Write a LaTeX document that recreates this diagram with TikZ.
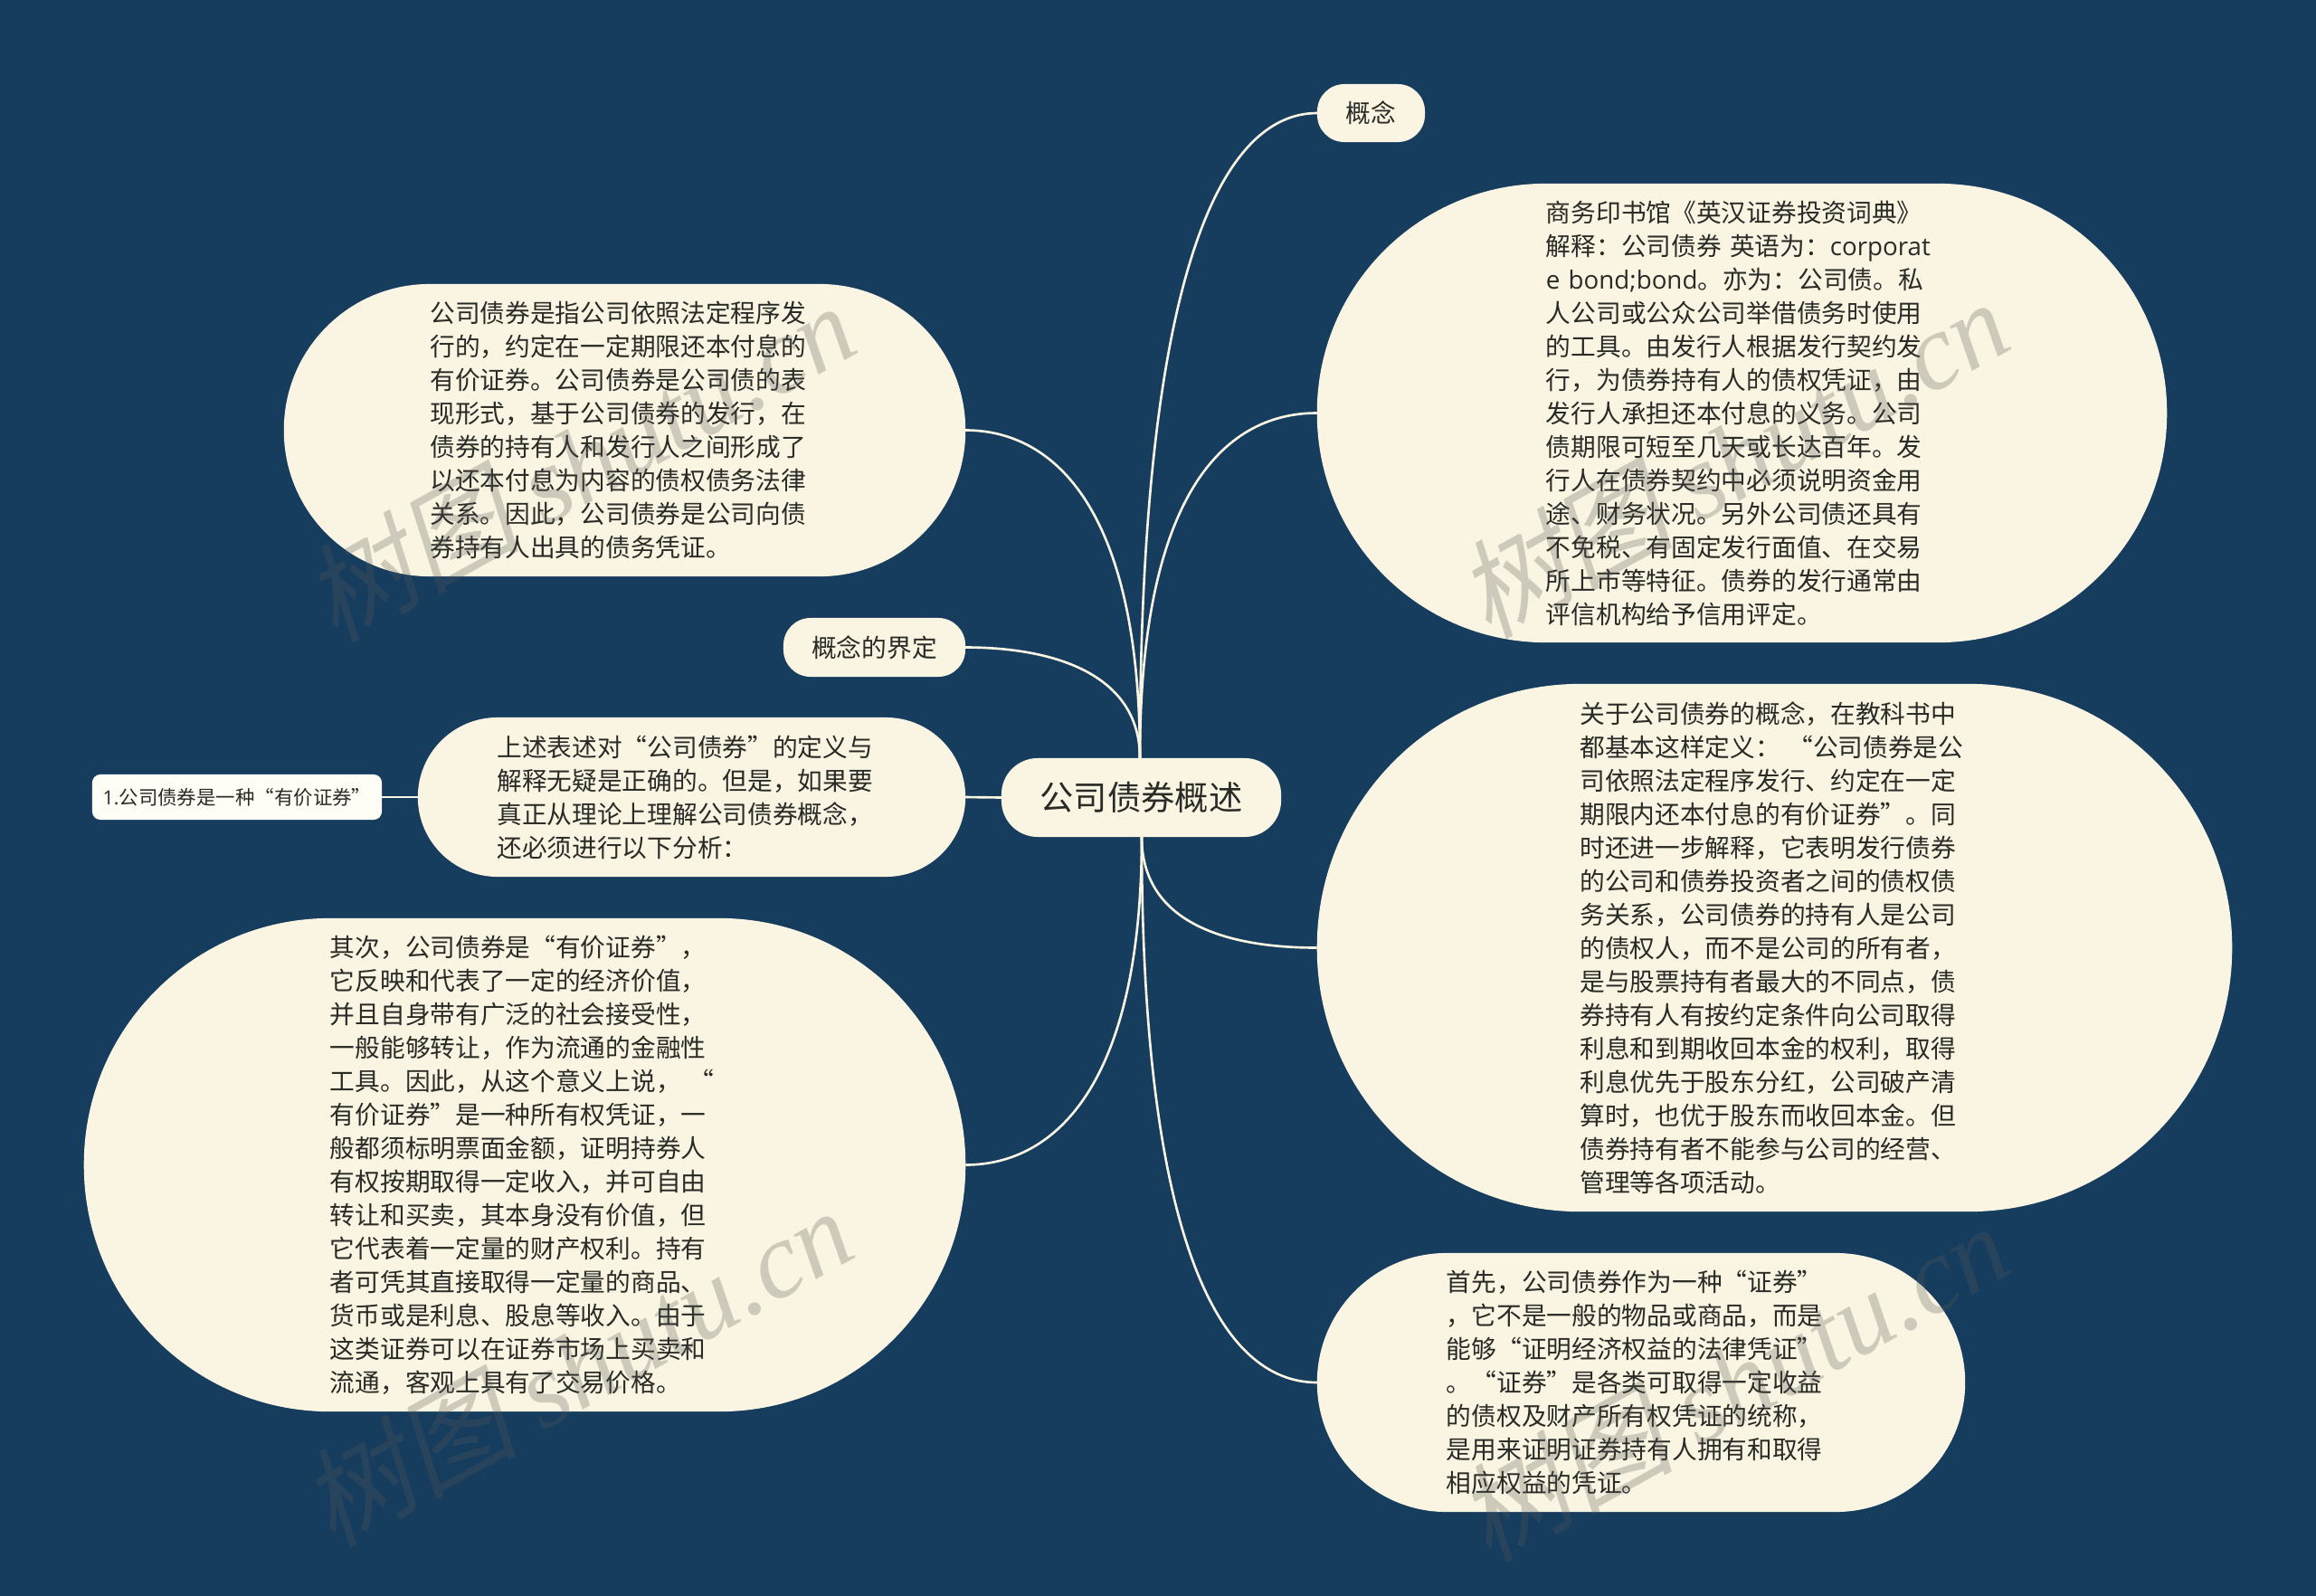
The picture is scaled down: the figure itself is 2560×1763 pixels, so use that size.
\documentclass[tikz,border=0pt]{standalone}
\usepackage{fontspec}
\setmainfont{Noto Sans CJK SC}
\newfontfamily\latinpart{Open Sans}
\newfontfamily\markcjk[FakeSlant=0.2]{Noto Sans CJK SC}
\newfontfamily\marklatin{Liberation Serif}
% full width comma and colon
\newcommand{\dou}{\symbol{"FF0C}}
\newcommand{\mao}{\symbol{"FF1A}}
\definecolor{bgnavy}{HTML}{163D5E}
\definecolor{bubblecream}{HTML}{F9F5E2}
\definecolor{leafwhite}{HTML}{FFFEF6}
\definecolor{inktext}{HTML}{2A2A26}
\definecolor{markgray}{HTML}{585858}
\tikzset{
  bubble/.style={fill=bubblecream,text=inktext,align=left,inner sep=0pt,outer sep=0pt,
    font=\fontsize{7.88}{10.52}\selectfont},
  para/.style={bubble,text width=4.3cm},
  branch/.style={draw=bubblecream,line width=.75pt},
  stamp/.style={text=markgray,opacity=.27,rotate=29,inner sep=0pt},
}

\begin{document}
\begin{tikzpicture}[x=.01cm,y=-.01cm]
    % Draw the background
    \useasboundingbox (0,0) rectangle (2560,1763);
    \fill[bgnavy] (-10,-10) rectangle (2570,1773);
    % Draw the root
    \node (root) [bubble,minimum width=3.09cm,minimum height=.87cm,rounded corners=.40cm,
      font=\fontsize{10.6}{13}\selectfont] at (1261.5,881.5) {公司债券概述};
    % Draw the right side
    \node (concept) [bubble,minimum width=1.19cm,minimum height=.64cm,rounded corners=.3cm] at (1515.5,125) {概念};
    \node (dictionary) [para,text width=4.33cm,minimum width=9.39cm,minimum height=5.07cm,rounded corners=2.53cm] at (1925.5,456.5) {%
      商务印书馆《英汉证券投资词典》\\
      解释\mao{}公司债券 英语为\mao{}{\latinpart corporat}\\
      {\latinpart e bond;bond}。亦为\mao{}公司债。私\\
      人公司或公众公司举借债务时使用\\
      的工具。由发行人根据发行契约发\\
      行\dou{}为债券持有人的债权凭证\dou{}由\\
      发行人承担还本付息的义务。公司\\
      债期限可短至几天或长达百年。发\\
      行人在债券契约中必须说明资金用\\
      途、财务状况。另外公司债还具有\\
      不免税、有固定发行面值、在交易\\
      所上市等特征。债券的发行通常由\\
      评信机构给予信用评定。};
    \node (textbook) [para,minimum width=10.11cm,minimum height=5.83cm,rounded corners=2.91cm] at (1961.5,1047.5) {%
      关于公司债券的概念\dou{}在教科书中\\
      都基本这样定义\mao{}\hspace{.3em}“公司债券是公\\
      司依照法定程序发行、约定在一定\\
      期限内还本付息的有价证券”。同\\
      时还进一步解释\dou{}它表明发行债券\\
      的公司和债券投资者之间的债权债\\
      务关系\dou{}公司债券的持有人是公司\\
      的债权人\dou{}而不是公司的所有者\dou{}\\
      是与股票持有者最大的不同点\dou{}债\\
      券持有人有按约定条件向公司取得\\
      利息和到期收回本金的权利\dou{}取得\\
      利息优先于股东分红\dou{}公司破产清\\
      算时\dou{}也优于股东而收回本金。但\\
      债券持有者不能参与公司的经营、\\
      管理等各项活动。};
    \node (firstpoint) [para,minimum width=7.16cm,minimum height=2.86cm,rounded corners=1.43cm] at (1814,1528) {%
      首先\dou{}公司债券作为一种“证券”\\
      \dou{}它不是一般的物品或商品\dou{}而是\\
      能够“证明经济权益的法律凭证”\\
      。“证券”是各类可取得一定收益\\
      的债权及财产所有权凭证的统称\dou{}\\
      是用来证明证券持有人拥有和取得\\
      相应权益的凭证。};
    % Draw the left side
    \node (meaning) [para,minimum width=7.53cm,minimum height=3.23cm,rounded corners=1.61cm] at (690.5,475.5) {%
      公司债券是指公司依照法定程序发\\
      行的\dou{}约定在一定期限还本付息的\\
      有价证券。公司债券是公司债的表\\
      现形式\dou{}基于公司债券的发行\dou{}在\\
      债券的持有人和发行人之间形成了\\
      以还本付息为内容的债权债务法律\\
      关系。因此\dou{}公司债券是公司向债\\
      券持有人出具的债务凭证。};
    \node (boundary) [bubble,minimum width=2.01cm,minimum height=.65cm,rounded corners=.3cm] at (966.5,715.5) {概念的界定};
    \node (analysis) [para,minimum width=6.05cm,minimum height=1.76cm,rounded corners=.88cm] at (764.5,881) {%
      上述表述对“公司债券”的定义与\\
      解释无疑是正确的。但是\dou{}如果要\\
      真正从理论上理解公司债券概念\dou{}\\
      还必须进行以下分析\mao{}};
    \node (leaf) [bubble,fill=leafwhite,minimum width=3.2cm,minimum height=.5cm,rounded corners=.09cm,
      font=\fontsize{6.1}{8}\selectfont] at (262,881) {{\latinpart 1.}公司债券是一种“有价证券”};
    \node (secondpoint) [para,minimum width=9.74cm,minimum height=5.45cm,rounded corners=2.72cm] at (580,1287.5) {%
      其次\dou{}公司债券是“有价证券”\dou{}\\
      它反映和代表了一定的经济价值\dou{}\\
      并且自身带有广泛的社会接受性\dou{}\\
      一般能够转让\dou{}作为流通的金融性\\
      工具。因此\dou{}从这个意义上说\dou{}\hspace{.3em}“\\
      有价证券”是一种所有权凭证\dou{}一\\
      般都须标明票面金额\dou{}证明持券人\\
      有权按期取得一定收入\dou{}并可自由\\
      转让和买卖\dou{}其本身没有价值\dou{}但\\
      它代表着一定量的财产权利。持有\\
      者可凭其直接取得一定量的商品、\\
      货币或是利息、股息等收入。由于\\
      这类证券可以在证券市场上买卖和\\
      流通\dou{}客观上具有了交易价格。};
    % Draw the connectors
    \coordinate (up) at (1260,838);
    \coordinate (down) at (1262,925);
    \draw[branch] (up) .. controls +(0,-536) and +(-106,0) .. (concept.west);
    \draw[branch] (up) .. controls +(0,-286) and +(-106,0) .. (dictionary.west);
    \draw[branch] (down) .. controls +(0,92) and +(-106,0) .. (textbook.west);
    \draw[branch] (down) .. controls +(0,451) and +(-106,0) .. (firstpoint.west);
    \draw[branch] (up) .. controls +(0,-272) and +(100,0) .. (meaning.east);
    \draw[branch] (up) .. controls +(0,-92) and +(100,0) .. (boundary.east);
    \draw[branch] (down) .. controls +(0,272) and +(100,0) .. (secondpoint.east);
    \draw[branch] (root.west) -- (analysis.east);
    \draw[branch] (analysis.west) -- (leaf.east);
    % Draw the watermarks
    \foreach \x/\y/\i in {640/510/1, 1915/506/2, 637/1510/3, 1915/1527/4}{
      \node (stamp\i) [stamp] at (\x,\y) {\fontsize{34}{40}\selectfont\markcjk 树图 \marklatin\itshape shutu.cn};
    }
\end{tikzpicture}
\end{document}
